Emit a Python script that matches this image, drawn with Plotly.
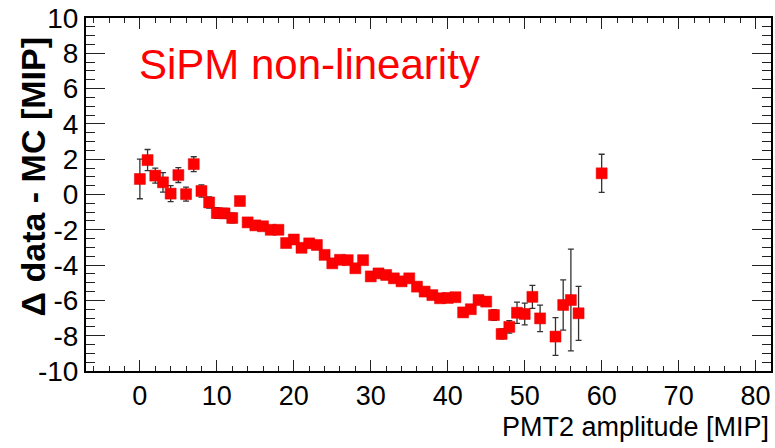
import plotly.graph_objects as go

# Data
pmt2_amplitude = [0, 1, 2, 3, 4, 5, 6, 7, 8, 9,
                  10, 11, 12, 13, 14, 15, 16, 17, 18, 19,
                  20, 21, 22, 23, 24, 25, 26, 27, 28, 29,
                  30, 31, 32, 33, 34, 35, 36, 37, 38, 39,
                  40, 41, 42, 43, 44, 45, 46, 47, 48, 49,
                  50, 51, 52, 54, 55, 56, 57, 60]
delta_data_mc = [0.88, 1.95, 1.07, 0.69, 0.05, 1.10, 0.02, 1.72, 0.20, -0.45,
                 -1.05, -1.07, -1.33, -0.37, -1.58, -1.75, -1.80, -2.00, -2.00, -2.75,
                 -2.55, -3.02, -2.77, -2.86, -3.42, -3.90, -3.70, -3.72, -4.18, -3.72,
                 -4.64, -4.47, -4.56, -4.75, -4.92, -4.75, -5.22, -5.50, -5.70, -5.88,
                 -5.86, -5.82, -6.68, -6.50, -5.98, -6.07, -6.83, -7.90, -7.50, -6.70,
                 -6.77, -5.80, -7.02, -8.05, -6.26, -5.98, -6.73, 1.20]
delta_err = [1.12, 0.60, 0.42, 0.55, 0.45, 0.42, 0.40, 0.42, 0.35, 0.32,
             0.30, 0.28, 0.28, 0.25, 0.22, 0.22, 0.20, 0.20, 0.20, 0.20,
             0.20, 0.20, 0.20, 0.20, 0.20, 0.20, 0.20, 0.20, 0.20, 0.20,
             0.20, 0.20, 0.20, 0.20, 0.20, 0.20, 0.20, 0.20, 0.20, 0.20,
             0.20, 0.20, 0.22, 0.22, 0.22, 0.25, 0.30, 0.28, 0.35, 0.60,
             0.62, 0.65, 0.75, 1.07, 1.42, 2.88, 1.53, 1.08]

x_tickvals = [0, 10, 20, 30, 40, 50, 60, 70, 80]
y_tickvals = [-10, -8, -6, -4, -2, 0, 2, 4, 6, 8, 10]

x_title = "PMT2 amplitude [MIP]"
y_title = "Δ data - MC [MIP]"
label = "SiPM non-linearity"

FONT = "Arial, 'Liberation Sans', Helvetica, sans-serif"

fig = go.Figure()
fig.add_trace(go.Scatter(
    x=pmt2_amplitude, y=delta_data_mc, mode="markers",
    marker=dict(symbol="square", size=11, color="#ff0000",
                line=dict(color="#e00000", width=0.5)),
    error_y=dict(type="data", array=delta_err, visible=True,
                 color="#333333", thickness=1.3, width=3),
    showlegend=False,
))

fig.update_layout(
    width=775, height=448,
    margin=dict(l=86, r=2, t=18, b=77),
    paper_bgcolor="white", plot_bgcolor="white",
    font=dict(family=FONT, color="black"),
)

fig.update_xaxes(
    range=[-7, 82], tickmode="array", tickvals=x_tickvals,
    ticktext=[str(v) for v in x_tickvals],
    showgrid=False, zeroline=False,
    showline=True, linecolor="black", linewidth=2, mirror="ticks",
    ticks="inside", ticklen=11, tickwidth=1.3, tickcolor="#222",
    minor=dict(dtick=2, tick0=0, ticks="inside", ticklen=5, tickwidth=1.2, tickcolor="#222", showgrid=False),
    tickfont=dict(size=27, family=FONT),
)
fig.update_yaxes(
    range=[-10, 10], tickmode="array", tickvals=y_tickvals,
    ticktext=[str(v) for v in y_tickvals],
    showgrid=False, zeroline=False,
    showline=True, linecolor="black", linewidth=2, mirror="ticks",
    ticks="inside", ticklen=19, tickwidth=1.3, tickcolor="#222",
    minor=dict(dtick=0.5, tick0=0, ticks="inside", ticklen=9, tickwidth=1.2, tickcolor="#222", showgrid=False),
    tickfont=dict(size=28, family=FONT),
)

fig.add_annotation(
    text=label, x=-0.4, y=7.35, xref="x", yref="y",
    xanchor="left", yanchor="middle", showarrow=False,
    font=dict(size=42, color="#ff0000", family=FONT),
)
fig.add_annotation(
    text=x_title, x=1.0, y=-0.16, xref="paper", yref="paper",
    xanchor="right", yanchor="middle", showarrow=False,
    font=dict(size=27, color="black", family=FONT),
)
fig.add_annotation(
    text="<b>" + y_title + "</b>", x=-0.078, y=0.55, xref="paper", yref="paper",
    xanchor="center", yanchor="middle", showarrow=False, textangle=-90,
    font=dict(size=34, color="black", family=FONT),
)

fig.write_html("out.html")
